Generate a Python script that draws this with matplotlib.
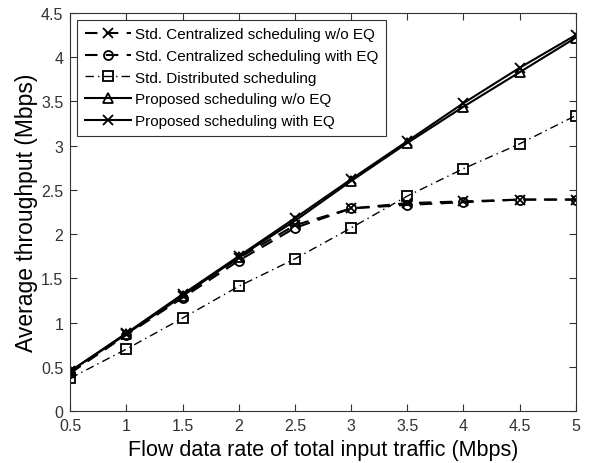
import matplotlib.pyplot as plt

rate = [0.5, 1, 1.5, 2, 2.5, 3, 3.5, 4, 4.5, 5]
std_cent_no_eq = [0.43, 0.87, 1.30, 1.73, 2.10, 2.29, 2.35, 2.37, 2.39, 2.39]
std_cent_eq = [0.43, 0.86, 1.28, 1.70, 2.07, 2.29, 2.33, 2.36, 2.39, 2.39]
std_dist = [0.37, 0.70, 1.05, 1.41, 1.72, 2.07, 2.43, 2.74, 3.02, 3.34]
prop_no_eq = [0.45, 0.87, 1.30, 1.74, 2.15, 2.60, 3.03, 3.44, 3.83, 4.22]
prop_eq = [0.45, 0.88, 1.32, 1.75, 2.18, 2.62, 3.05, 3.48, 3.88, 4.25]

plt.rcParams['font.family'] = ['Liberation Sans', 'DejaVu Sans']

fig = plt.figure(figsize=(5.9, 4.64), dpi=100)
ax = fig.add_axes([0.119, 0.112, 0.857, 0.858])

kw = dict(color='black', linewidth=1.5, markersize=6.5, markerfacecolor='none', markeredgewidth=1.3)
ax.plot(rate, std_cent_no_eq, linestyle=(0, (6, 4)), marker='x', label='Std. Centralized scheduling w/o EQ', **kw)
ax.plot(rate, std_cent_eq, linestyle=(0, (6, 4)), marker='o', label='Std. Centralized scheduling with EQ', **kw)
ax.plot(rate, std_dist, linestyle=(0, (6, 3, 1, 3)), linewidth=1.0, color='black', marker='s',
        markersize=6.5, markerfacecolor='none', markeredgewidth=1.3, label='Std. Distributed scheduling')
ax.plot(rate, prop_no_eq, linestyle='-', marker='^', label='Proposed scheduling w/o EQ', **kw)
ax.plot(rate, prop_eq, linestyle='-', marker='x', label='Proposed scheduling with EQ', **kw)

ax.set_xlim(0.5, 5)
ax.set_ylim(0, 4.5)
ax.set_xticks(rate)
ax.set_xticklabels(['0.5', '1', '1.5', '2', '2.5', '3', '3.5', '4', '4.5', '5'])
ax.set_yticks([0, 0.5, 1, 1.5, 2, 2.5, 3, 3.5, 4, 4.5])
ax.set_yticklabels(['0', '0.5', '1', '1.5', '2', '2.5', '3', '3.5', '4', '4.5'])
ax.tick_params(direction='in', top=True, right=True, labelsize=11.5, length=5, colors='#333333')
ax.tick_params(axis='x', pad=5)
ax.tick_params(axis='y', pad=5)
for s in ax.spines.values():
    s.set_color('#333333')

ax.set_xlabel('Flow data rate of total input traffic (Mbps)', fontsize=15.5, labelpad=4)
ax.set_ylabel('Average throughput (Mbps)', fontsize=16.5, labelpad=2)

leg = ax.legend(loc='upper left', fontsize=11, fancybox=False, edgecolor='#333333',
                framealpha=1, handlelength=3.0, borderaxespad=0.45, labelspacing=0.5,
                handletextpad=0.3, borderpad=0.5)
leg.get_frame().set_linewidth(0.8)

fig.savefig('out.png', dpi=100)
